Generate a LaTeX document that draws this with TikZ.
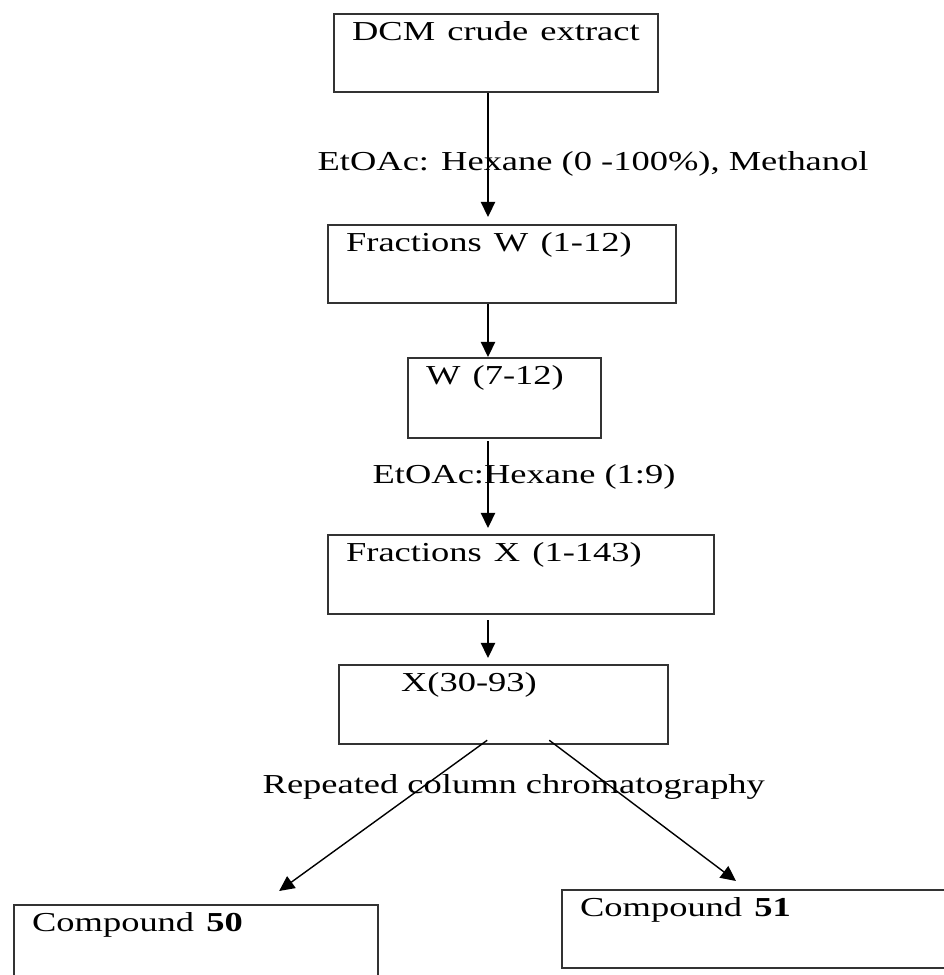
\documentclass[tikz,border=0pt]{standalone}
\usepackage{fontspec}
\setmainfont{Liberation Serif}
\usepackage{graphicx}
\usetikzlibrary{arrows.meta,positioning,calc}
\newcommand{\stretched}[1]{\scalebox{1.33}[1]{#1}}
\tikzset{stage/.style={draw=black!80,line width=1.6pt,anchor=north west,align=left,inner xsep=0.45cm,inner ysep=0pt,text height=0.65cm,font=\fontsize{19.5}{23}\selectfont}}
\tikzset{solvent/.style={anchor=base west,inner sep=0pt,font=\fontsize{19.5}{23}\selectfont}}

\begin{document}
\begin{tikzpicture}[>={Triangle[length=3.8mm,width=3.6mm]}, line width=1pt]
\useasboundingbox (0,0) rectangle (23.575,-24.375);
\coordinate (spine) at (12.2,0);
    \node[stage,text width=7.2cm,text depth=1.3cm] (dcm) at (8.325,-0.325) {\stretched{DCM crude extract}};
    \node[stage,text width=7.8cm,text depth=1.3cm] (fracW) at (8.175,-5.6) {\stretched{Fractions W (1-12)}};
    \node[stage,text width=3.925cm,text depth=1.35cm] (wsub) at (10.175,-8.925) {\stretched{W (7-12)}};
    \node[stage,text width=8.75cm,text depth=1.325cm] (fracX) at (8.175,-13.35) {\stretched{Fractions X (1-143)}};
    \node[stage,text width=7.325cm,text depth=1.325cm] (xsel) at (8.45,-16.6) {\hspace*{1.1cm}\stretched{X(30-93)}};
    \node[stage,text width=8.2cm,text depth=1.6cm] (cpd50) at (0.325,-22.6) {\stretched{Compound \textbf{50}}};
    \node[stage,text width=9.075cm,text depth=1.3cm] (cpd51) at (14.025,-22.225) {\stretched{Compound \textbf{51}}};

    % solvent systems
    \node[solvent] (elute1) at (7.925,-4.275) {\stretched{EtOAc: Hexane (0 -100\%), Methanol}};
    \node[solvent] (elute2) at (9.3,-12.075) {\stretched{EtOAc:Hexane (1:9)}};
    \node[solvent] (elute3) at (6.55,-19.825) {\stretched{Repeated column chromatography}};

    \draw[->,shorten >=0.175cm] (dcm.south -| spine) -- (fracW.north -| spine);
    \draw[->] (fracW.south -| spine) -- (wsub.north -| spine);
    \draw[->,shorten <=0.05cm,shorten >=0.15cm] (wsub.south -| spine) -- (fracX.north -| spine);
    \draw[->,shorten <=0.125cm,shorten >=0.15cm] (fracX.south -| spine) -- (xsel.north -| spine);
    \draw[->] ([xshift=-0.41cm,yshift=0.125cm]xsel.south) -- ([xshift=2.075cm,yshift=0.325cm]cpd50.north);
    \draw[->] ([xshift=1.14cm,yshift=0.125cm]xsel.south) -- ([xshift=4.375cm,yshift=0.2cm]cpd51.north west);
\end{tikzpicture}
\end{document}
